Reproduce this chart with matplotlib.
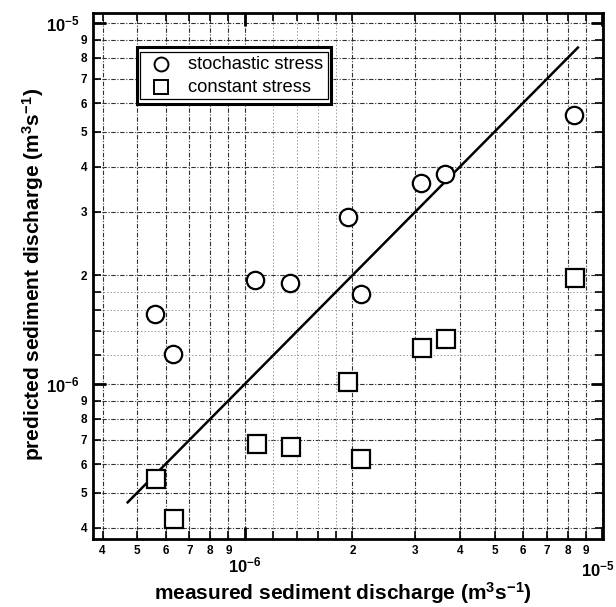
import matplotlib
matplotlib.use("Agg")
import matplotlib.pyplot as plt
from matplotlib.ticker import FixedLocator, FixedFormatter
from matplotlib.patches import Rectangle

plt.rcParams['font.family'] = ['Liberation Sans', 'DejaVu Sans']
plt.rcParams['mathtext.fontset'] = 'custom'
plt.rcParams['mathtext.rm'] = 'Liberation Sans:bold'
plt.rcParams['mathtext.bf'] = 'Liberation Sans:bold'
plt.rcParams['mathtext.it'] = 'Liberation Sans:bold'
plt.rcParams['mathtext.default'] = 'bf'

# data
stoch_measured = [5.6e-7, 6.3e-7, 1.07e-6, 1.34e-6, 1.94e-6, 2.11e-6, 3.12e-6, 3.64e-6, 8.35e-6]
stoch_predicted = [1.56e-6, 1.21e-6, 1.94e-6, 1.91e-6, 2.90e-6, 1.78e-6, 3.61e-6, 3.82e-6, 5.56e-6]
const_measured = [5.63e-7, 6.33e-7, 1.08e-6, 1.35e-6, 1.95e-6, 2.12e-6, 3.14e-6, 3.66e-6, 8.4e-6]
const_predicted = [5.45e-7, 4.24e-7, 6.82e-7, 6.69e-7, 1.01e-6, 6.20e-7, 1.26e-6, 1.33e-6, 1.96e-6]
line_x = [4.7e-7, 8.55e-6]
line_y = [4.7e-7, 8.55e-6]

major_ticks = [1e-6, 1e-5]
x_major_labels = ['10$^{-6}$', '']
x_end_label = '10$^{-5}$'
y_major_labels = ['10$^{-6}$', '10$^{-5}$']
minor_ticks = [4e-7, 5e-7, 6e-7, 7e-7, 8e-7, 9e-7,
               2e-6, 3e-6, 4e-6, 5e-6, 6e-6, 7e-6, 8e-6, 9e-6]
x_minor_labels = ['4', '5', '6', '7', '8', '9', '2', '3', '4', '5', '6', '7', '8', '9']
y_minor_labels = ['4', '5', '6', '7', '8', '9', '2', '3', '4', '5', '6', '7', '8', '9']
fine_ticks = [1.2e-6, 1.4e-6, 1.6e-6, 1.8e-6]

fig = plt.figure(figsize=(6.16, 6.07), dpi=100)
ax = fig.add_axes([0.1510, 0.1120, 0.8279, 0.8666])
ax.set_xscale('log')
ax.set_yscale('log')
ax.set_xlim(3.76e-7, 1.005e-5)
ax.set_ylim(3.72e-7, 1.066e-5)

grid_style = dict(color='#333333', lw=0.8, ls=(0, (4, 1.5, 1, 1.5)), zorder=1)
fine_style = dict(color='#999999', lw=0.7, ls=(0, (1.5, 2)), zorder=1)
for v in major_ticks + minor_ticks:
    ax.axvline(v, **grid_style)
    ax.axhline(v, **grid_style)
for v in fine_ticks:
    ax.axvline(v, **fine_style)
    ax.axhline(v, **fine_style)

for axis, majl, mlabels in ((ax.xaxis, x_major_labels, x_minor_labels),
                            (ax.yaxis, y_major_labels, y_minor_labels)):
    axis.set_major_locator(FixedLocator(major_ticks))
    axis.set_major_formatter(FixedFormatter(majl))
    axis.set_minor_locator(FixedLocator(minor_ticks + fine_ticks))
    axis.set_minor_formatter(FixedFormatter(mlabels + [''] * len(fine_ticks)))

ax.tick_params(which='both', direction='in', top=True, right=True, width=1.2)
ax.tick_params(which='major', length=9, labelsize=12, width=2)
ax.tick_params(which='minor', length=6, labelsize=8.5)
ax.tick_params(axis='x', which='major', pad=12)
ax.tick_params(axis='x', which='minor', pad=4)
ax.tick_params(axis='y', which='major', pad=10)
ax.tick_params(axis='y', which='minor', pad=4)
for lab in (ax.get_xticklabels(minor=True) + ax.get_yticklabels(minor=True)
            + ax.get_xticklabels() + ax.get_yticklabels()):
    lab.set_fontweight('bold')
for s in ax.spines.values():
    s.set_linewidth(2)

fig.text(0.998, 0.062, x_end_label, fontsize=12, fontweight='bold', ha='right', va='center')

ax.plot(line_x, line_y, color='black', lw=1.8, zorder=3)
ax.plot(stoch_measured, stoch_predicted, 'o', ms=12.5, mfc='white', mec='black', mew=1.6, zorder=4)
ax.plot(const_measured, const_predicted, 's', ms=12.5, mfc='white', mec='black', mew=1.6, zorder=4)

# legend with double border
ax.add_patch(Rectangle((0.0863, 0.827), 0.3804, 0.108, transform=ax.transAxes,
                       fc='white', ec='black', lw=2.2, zorder=5))
ax.add_patch(Rectangle((0.0925, 0.8365), 0.368, 0.089, transform=ax.transAxes,
                       fc='none', ec='black', lw=0.9, zorder=6))
ax.plot([0.1333], [0.903], 'o', ms=10, mfc='white', mec='black', mew=1.4,
        transform=ax.transAxes, zorder=7, clip_on=False)
ax.plot([0.1333], [0.859], 's', ms=10, mfc='white', mec='black', mew=1.4,
        transform=ax.transAxes, zorder=7, clip_on=False)
ax.text(0.186, 0.903, 'stochastic stress', transform=ax.transAxes, fontsize=13.2,
        va='center', ha='left', zorder=7)
ax.text(0.186, 0.859, 'constant stress', transform=ax.transAxes, fontsize=13.2,
        va='center', ha='left', zorder=7)

fig.text(0.557, 0.023, 'measured sediment discharge (m$^3$s$^{-1}$)', fontsize=15,
         fontweight='bold', ha='center', va='center')
fig.text(0.054, 0.548, 'predicted sediment discharge (m$^3$s$^{-1}$)', fontsize=15,
         fontweight='bold', ha='center', va='center', rotation=90)

fig.savefig('out.png', dpi=100)
